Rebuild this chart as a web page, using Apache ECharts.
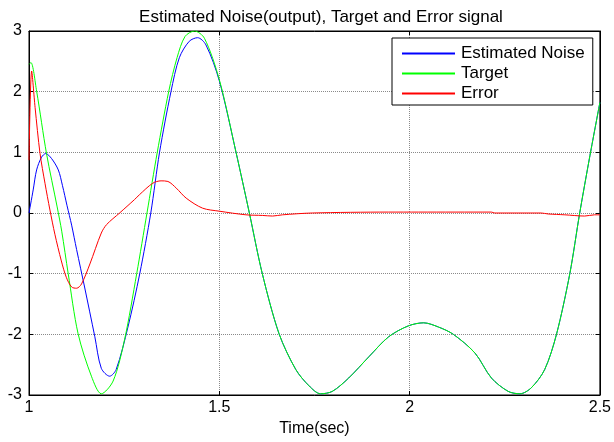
<!DOCTYPE html>
<html>
<head>
<meta charset="utf-8">
<script src="https://cdn.jsdelivr.net/npm/echarts@6/dist/echarts.min.js"></script>
<style>html,body{margin:0;padding:0;background:#fff}#c{width:614px;height:442px}</style>
</head>
<body>
<div id="c"></div>
<script>
// ---- data ----
const xTicks = [1, 1.5, 2, 2.5];
const yTicks = [-3, -2, -1, 0, 1, 2, 3];

const noiseT = [1.000, 1.011, 1.020, 1.033, 1.044, 1.059, 1.077, 1.088, 1.100, 1.112, 1.125, 1.146, 1.173, 1.190, 1.212, 1.229, 1.260, 1.291, 1.320, 1.343, 1.373, 1.395, 1.421, 1.443, 1.465, 1.500, 1.544, 1.579, 1.613, 1.657, 1.701, 1.736, 1.766, 1.797, 1.840, 1.893, 1.945, 1.997, 2.037, 2.076, 2.115, 2.172, 2.215, 2.259, 2.290, 2.320, 2.355, 2.386, 2.421, 2.447, 2.474, 2.500];
const noiseV = [0.00, 0.38, 0.71, 0.92, 0.98, 0.90, 0.71, 0.45, 0.12, -0.20, -0.60, -1.22, -2.04, -2.56, -2.69, -2.58, -1.88, -1.00, 0.00, 1.00, 2.00, 2.56, 2.83, 2.89, 2.77, 2.18, 1.00, 0.00, -1.00, -1.99, -2.58, -2.85, -2.98, -2.94, -2.72, -2.37, -2.04, -1.86, -1.81, -1.88, -2.00, -2.31, -2.72, -2.94, -2.98, -2.88, -2.58, -2.00, -1.00, 0.00, 0.95, 1.82];

const targetT = [1.000, 1.005, 1.020, 1.046, 1.074, 1.086, 1.103, 1.129, 1.164, 1.190, 1.221, 1.251, 1.283, 1.310, 1.337, 1.367, 1.389, 1.410, 1.435, 1.461, 1.500, 1.544, 1.579, 1.613, 1.657, 1.701, 1.736, 1.766, 1.797, 1.840, 1.893, 1.945, 1.997, 2.037, 2.076, 2.115, 2.172, 2.215, 2.259, 2.290, 2.320, 2.355, 2.386, 2.421, 2.447, 2.474, 2.500];
const targetV = [2.45, 2.48, 2.01, 0.98, 0.10, -0.30, -1.00, -1.99, -2.69, -2.98, -2.77, -2.09, -1.00, 0.00, 1.00, 2.00, 2.56, 2.91, 3.00, 2.88, 2.20, 1.00, 0.00, -1.00, -1.99, -2.58, -2.85, -2.98, -2.94, -2.72, -2.37, -2.04, -1.86, -1.81, -1.88, -2.00, -2.31, -2.72, -2.94, -2.98, -2.88, -2.58, -2.00, -1.00, 0.00, 0.95, 1.82];

const errorT = [1.000, 1.007, 1.016, 1.029, 1.042, 1.055, 1.068, 1.085, 1.098, 1.112, 1.125, 1.138, 1.160, 1.190, 1.204, 1.238, 1.277, 1.290, 1.325, 1.347, 1.365, 1.387, 1.413, 1.456, 1.500, 1.570, 1.613, 1.640, 1.666, 1.744, 1.945, 2.024, 2.215, 2.224, 2.346, 2.364, 2.408, 2.460, 2.486, 2.500];
const errorV = [0.87, 2.34, 1.74, 0.98, 0.49, 0.05, -0.35, -0.79, -1.06, -1.22, -1.24, -1.17, -0.84, -0.33, -0.19, 0.00, 0.22, 0.30, 0.49, 0.53, 0.52, 0.41, 0.245, 0.08, 0.03, -0.03, -0.04, -0.05, -0.03, 0.00, 0.015, 0.015, 0.015, 0.00, 0.00, -0.016, -0.03, -0.05, -0.03, -0.03];

const names = ['Estimated Noise', 'Target', 'Error'];
const colors = ['#0000ff', '#00ff00', '#ff0000'];

const zip = (t, v) => t.map((x, i) => [x, v[i]]);
const FONT = 'Liberation Sans, Arial, Helvetica, sans-serif';
const FS = 16;

const chart = echarts.init(document.getElementById('c'), null, {renderer: 'canvas'});
const gridLine = {show: true, lineStyle: {color: '#8a8a8a', type: [1, 1], width: 1}};
const axisCommon = {
  axisLine: {show: true, onZero: false, lineStyle: {color: '#000', width: 1}},
  axisTick: {show: true, inside: true, length: 4, lineStyle: {color: '#000'}}
};
chart.setOption({
  animation: false,
  backgroundColor: '#fff',
  title: {
    text: 'Estimated Noise(output), Target and Error signal',
    left: 316, top: 4, textAlign: 'center',
    textStyle: {fontFamily: FONT, fontSize: 17, fontWeight: 'normal', color: '#000'}
  },
  legend: {
    data: names,
    orient: 'vertical',
    left: 392, top: 38,
    itemWidth: 53, itemHeight: 2, itemGap: 3,
    icon: 'rect',
    padding: [7, 8, 3, 10],
    backgroundColor: '#fff',
    borderColor: '#000', borderWidth: 1, borderRadius: 0,
    textStyle: {fontFamily: FONT, fontSize: 17, lineHeight: 16, color: '#000', padding: [0, 0, 0, 1]}
  },
  grid: {left: 29, right: 11, top: 31, bottom: 43, show: true, borderColor: '#000', borderWidth: 1, backgroundColor: '#fff'},
  xAxis: [
    Object.assign({}, axisCommon, {
      type: 'value', min: xTicks[0], max: xTicks[xTicks.length - 1], interval: 0.5,
      name: 'Time(sec)', nameLocation: 'middle', nameGap: 26,
      nameTextStyle: {fontFamily: FONT, fontSize: FS, color: '#000'},
      axisLabel: {fontFamily: FONT, fontSize: FS, color: '#000', margin: 5, formatter: v => String(v)},
      splitLine: gridLine
    }),
    Object.assign({}, axisCommon, {
      type: 'value', position: 'top', min: xTicks[0], max: xTicks[xTicks.length - 1], interval: 0.5,
      axisLabel: {show: false}, splitLine: {show: false}
    })
  ],
  yAxis: [
    Object.assign({}, axisCommon, {
      type: 'value', min: yTicks[0], max: yTicks[yTicks.length - 1], interval: 1,
      axisLabel: {fontFamily: FONT, fontSize: FS, color: '#000', margin: 7},
      splitLine: gridLine
    }),
    Object.assign({}, axisCommon, {
      type: 'value', position: 'right', min: yTicks[0], max: yTicks[yTicks.length - 1], interval: 1,
      axisLabel: {show: false}, splitLine: {show: false}
    })
  ],
  series: [
    {name: names[0], type: 'line', data: zip(noiseT, noiseV), symbol: 'none', smooth: 0.3, lineStyle: {width: 1, color: colors[0]}, itemStyle: {color: colors[0]}},
    {name: names[1], type: 'line', data: zip(targetT, targetV), symbol: 'none', smooth: 0.3, lineStyle: {width: 1, color: colors[1]}, itemStyle: {color: colors[1]}},
    {name: names[2], type: 'line', data: zip(errorT, errorV), symbol: 'none', smooth: 0.3, lineStyle: {width: 1, color: colors[2]}, itemStyle: {color: colors[2]}}
  ]
});
</script>
</body>
</html>
